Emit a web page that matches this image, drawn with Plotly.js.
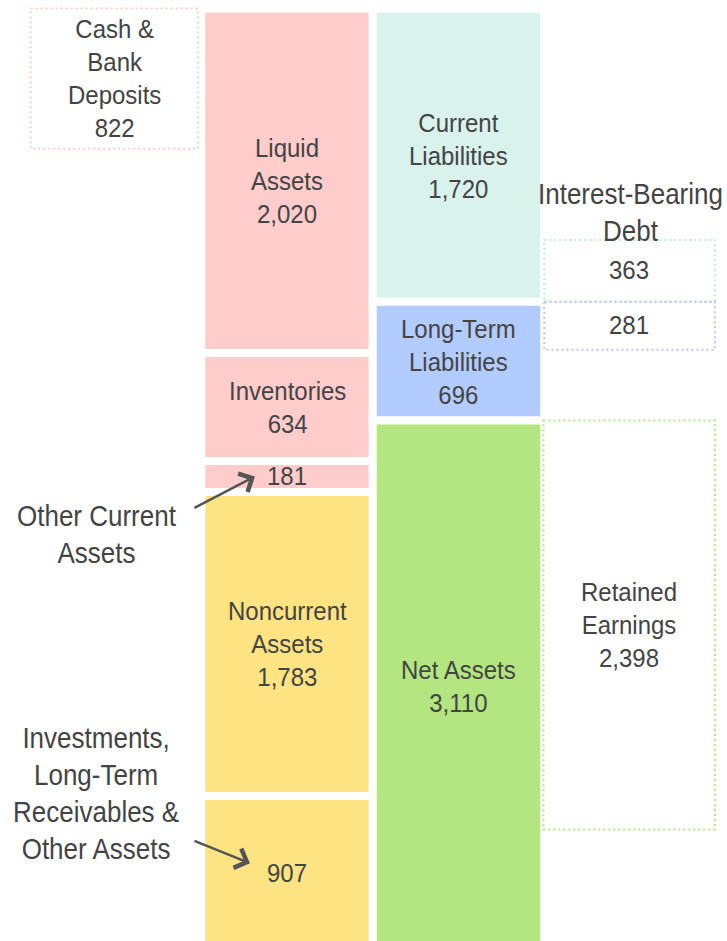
<!DOCTYPE html>
<html>
<head>
<meta charset="utf-8">
<script src="https://cdn.plot.ly/plotly-3.0.1.min.js"></script>
<style>html,body{margin:0;padding:0;background:#fff;}#chart{width:727px;height:941px;}</style>
</head>
<body>
<div id="chart"></div>
<script>
// ---- data ----
const assetLabels = ['Liquid<br>Assets', 'Inventories', '', 'Noncurrent<br>Assets', ''];
const assetValues = [2020, 634, 181, 1783, 907];
const assetColors = ['#ffcccc', '#ffcccc', '#ffcccc', '#fee383', '#fee383'];

const claimLabels = ['Current<br>Liabilities', 'Long-Term<br>Liabilities', 'Net Assets'];
const claimValues = [1720, 696, 3110];
const claimColors = ['#d9f2ec', '#b3ccff', '#b3e680'];

const cashLabel = 'Cash &<br>Bank<br>Deposits';
const cashValue = 822;
const debtLabels = ['', ''];
const debtValues = [363, 281];
const debtColors = ['#c2ebe0', '#c2c2f0'];
const retainedLabel = 'Retained<br>Earnings';
const retainedValue = 2398;

const otherCurrentLabel = 'Other Current<br>Assets';
const investmentsLabel = 'Investments,<br>Long-Term<br>Receivables &<br>Other Assets';
const debtTitle = 'Interest-Bearing<br>Debt';

// ---- helpers ----
function fmt(v) { return v.toLocaleString('en-US'); }
function cumBase(vals) { const b = []; let s = 0; vals.forEach(v => { b.push(s); s += v; }); return b; }

const assetBase = cumBase(assetValues);
const claimBase = cumBase(claimValues);

const txtColor = '#444444';
const fontFam = "'Liberation Sans', Arial, sans-serif";

const traces = [
  {
    type: 'bar', x: assetValues.map(() => 1), y: assetValues, base: assetBase, width: 1,
    marker: { color: assetColors, line: { color: '#ffffff', width: 8 } },
    hoverinfo: 'skip'
  },
  {
    type: 'bar', x: claimValues.map(() => 2), y: claimValues, base: claimBase, width: 1,
    marker: { color: claimColors, line: { color: '#ffffff', width: 8 } },
    hoverinfo: 'skip'
  }
];

const annotations = [];
const bodyFont = { family: fontFam, size: 24, color: txtColor };
const outFont = { family: fontFam, size: 26, color: txtColor };

function addLabel(x, y, label, value, font) {
  const t = (label ? label + '<br>' : '') + fmt(value);
  annotations.push({ x: x, y: y, xref: 'x', yref: 'y', text: t, showarrow: false, font: font, xanchor: 'center', yanchor: 'middle' });
}

assetValues.forEach((v, i) => addLabel(1, assetBase[i] + v / 2, assetLabels[i], v, bodyFont));
claimValues.forEach((v, i) => addLabel(2, claimBase[i] + v / 2, claimLabels[i], v, bodyFont));

// dotted detail boxes
const shapes = [];
function dotBox(x0, x1, y0, y1, color) {
  shapes.push({ type: 'rect', xref: 'x', yref: 'y', x0: x0, x1: x1, y0: y0, y1: y1,
    line: { color: color, width: 2, dash: '2px,3px' }, fillcolor: 'rgba(0,0,0,0)', layer: 'above' });
}
// cash: top of liquid assets
dotBox(-0.495, 0.48, 0, cashValue, '#ffcccc');
addLabel(-0.008, cashValue / 2, cashLabel, cashValue, bodyFont);

// interest-bearing debt: bottom of current liabilities and top of long-term liabilities
const debtStarts = [claimBase[1] - debtValues[0], claimBase[1]];
debtValues.forEach((v, i) => {
  dotBox(2.5, 3.495, debtStarts[i], debtStarts[i] + v, debtColors[i]);
  addLabel(2.997, debtStarts[i] + v / 2, debtLabels[i], v, bodyFont);
});
annotations.push({ x: 3.005, y: debtStarts[0], xref: 'x', yref: 'y', text: debtTitle, showarrow: false,
  font: outFont, xanchor: 'center', yanchor: 'middle', yshift: 27 });

// retained earnings: top of net assets
dotBox(2.495, 3.495, claimBase[2], claimBase[2] + retainedValue, '#b3e680');
addLabel(2.997, claimBase[2] + retainedValue / 2, retainedLabel, retainedValue, bodyFont);

// outside labels with arrows
const otherMid = assetBase[2] + assetValues[2] / 2;
const invMid = assetBase[4] + assetValues[4] / 2;
annotations.push({ x: -0.11, y: otherMid, xref: 'x', yref: 'y', text: otherCurrentLabel, showarrow: false,
  font: outFont, xanchor: 'center', yanchor: 'middle', yshift: -58 });
annotations.push({ x: 0.813, y: otherMid, xref: 'x', yref: 'y', text: '', showarrow: true,
  arrowhead: 4, arrowsize: 1.6, arrowwidth: 2.5, arrowcolor: '#555555', ax: -62, ay: 32, standoff: 0 });

annotations.push({ x: -0.112, y: invMid, xref: 'x', yref: 'y', text: investmentsLabel, showarrow: false,
  font: outFont, xanchor: 'center', yanchor: 'middle', yshift: 80 });
annotations.push({ x: 0.784, y: invMid, xref: 'x', yref: 'y', text: '', showarrow: true,
  arrowhead: 4, arrowsize: 1.6, arrowwidth: 2.5, arrowcolor: '#555555', ax: -57, ay: -23, standoff: 0, yshift: 10 });

const layout = {
  width: 727, height: 941,
  margin: { l: 0, r: 0, t: 0, b: 0, pad: 0 },
  paper_bgcolor: '#ffffff', plot_bgcolor: '#ffffff',
  showlegend: false,
  barmode: 'overlay',
  xaxis: { range: [-0.6735, 3.5656], visible: false, fixedrange: true },
  yaxis: { range: [5468.6, -50.4], visible: false, fixedrange: true },
  shapes: shapes,
  annotations: annotations,
  font: { family: fontFam, color: txtColor }
};

Plotly.newPlot('chart', traces, layout, { staticPlot: true, displayModeBar: false }).then(function () {
  // the reference's lettering is slightly taller than Arial at the same width
  document.querySelectorAll('#chart .annotation-text').forEach(function (el) {
    const fs = parseFloat(el.style.fontSize) || 24;
    const s = fs >= 26 ? 1.1 : 1.06;
    el.style.transformBox = 'fill-box';
    el.style.transformOrigin = '50% 50%';
    el.style.transform = 'scaleY(' + s + ')';
  });
});
</script>
</body>
</html>
